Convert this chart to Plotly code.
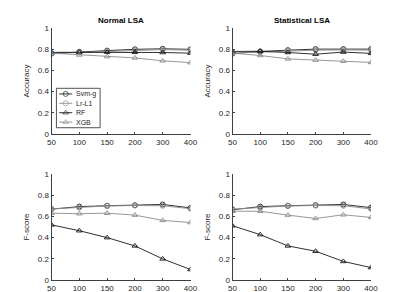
import plotly.graph_objects as go
from plotly.subplots import make_subplots

x_labels = ["50", "100", "150", "200", "300", "400"]
series_names = ["Svm-g", "Lr-L1", "RF", "XGB"]

# Normal LSA - Accuracy
acc_normal = {
    "Svm-g": [0.758, 0.775, 0.786, 0.798, 0.803, 0.798],
    "Lr-L1": [0.760, 0.770, 0.780, 0.788, 0.795, 0.790],
    "RF":    [0.770, 0.770, 0.772, 0.770, 0.768, 0.762],
    "XGB":   [0.762, 0.745, 0.730, 0.717, 0.690, 0.673],
}
# Statistical LSA - Accuracy
acc_stat = {
    "Svm-g": [0.758, 0.778, 0.790, 0.800, 0.800, 0.800],
    "Lr-L1": [0.762, 0.772, 0.782, 0.790, 0.792, 0.790],
    "RF":    [0.778, 0.780, 0.768, 0.752, 0.772, 0.760],
    "XGB":   [0.762, 0.740, 0.708, 0.697, 0.686, 0.675],
}
# Normal LSA - F-score
f_normal = {
    "Svm-g": [0.668, 0.692, 0.700, 0.705, 0.712, 0.680],
    "Lr-L1": [0.670, 0.682, 0.698, 0.702, 0.700, 0.672],
    "RF":    [0.520, 0.465, 0.400, 0.322, 0.200, 0.100],
    "XGB":   [0.630, 0.625, 0.630, 0.612, 0.562, 0.542],
}
# Statistical LSA - F-score
f_stat = {
    "Svm-g": [0.662, 0.692, 0.700, 0.705, 0.712, 0.682],
    "Lr-L1": [0.668, 0.680, 0.698, 0.702, 0.700, 0.670],
    "RF":    [0.512, 0.428, 0.322, 0.272, 0.176, 0.118],
    "XGB":   [0.648, 0.648, 0.612, 0.580, 0.615, 0.590],
}

colors = {"Svm-g": "#1a1a1a", "Lr-L1": "#8c8c8c", "RF": "#1a1a1a", "XGB": "#8c8c8c"}
symbols = {"Svm-g": "circle-open", "Lr-L1": "circle-open", "RF": "triangle-up-open", "XGB": "triangle-up-open"}

FONT = "Arial, Liberation Sans, sans-serif"
fig = make_subplots(rows=2, cols=2)
panels = [(acc_normal, 1, 1), (acc_stat, 1, 2), (f_normal, 2, 1), (f_stat, 2, 2)]
xs = list(range(len(x_labels)))
for data, r, c in panels:
    for name in series_names:
        fig.add_trace(go.Scatter(
            x=xs, y=data[name], name=name, mode="lines+markers",
            line=dict(color=colors[name], width=0.9),
            marker=dict(symbol=symbols[name], size=5, color=colors[name], line=dict(width=0.9, color=colors[name])),
            showlegend=False,
        ), row=r, col=c)

tick_font = dict(family=FONT, size=8, color="#262626")
xdoms = [[0.1096, 0.4597], [0.5655, 0.9144]]
ydoms = [[0.568, 0.932], [0.068, 0.432]]
for r in (1, 2):
    for c in (1, 2):
        fig.update_xaxes(row=r, col=c, domain=xdoms[c - 1], range=[0, 5], tickvals=xs, ticktext=x_labels,
                         showline=True, linecolor="#404040", linewidth=1, ticks="inside", ticklen=2,
                         tickcolor="#404040", showgrid=False, zeroline=False, tickfont=tick_font, automargin=False)
        fig.update_yaxes(row=r, col=c, domain=ydoms[r - 1], range=[0, 1], tickvals=[0, 0.2, 0.4, 0.6, 0.8, 1],
                         ticktext=["0", "0.2", "0.4", "0.6", "0.8", "1"],
                         showline=True, linecolor="#404040", linewidth=1, ticks="inside", ticklen=2,
                         tickcolor="#404040", showgrid=False, zeroline=False, tickfont=tick_font, automargin=False,
                         title=dict(text="Accuracy" if r == 1 else "F-score",
                                    font=dict(family=FONT, size=8, color="#262626"), standoff=6))

# custom compact legend drawn in its own small axis
leg_x0, leg_x1, leg_y0, leg_y1 = 0.122, 0.232, 0.59, 0.725
fig.update_layout(
    xaxis5=dict(domain=[leg_x0, leg_x1], range=[0, 4], visible=False, anchor="y5", fixedrange=True),
    yaxis5=dict(domain=[leg_y0, leg_y1], range=[-0.6, 3.6], visible=False, anchor="x5", fixedrange=True),
)
for i, name in enumerate(series_names):
    ypos = 3 - i
    fig.add_trace(go.Scatter(x=[0.25, 0.85, 1.45], y=[ypos] * 3, mode="lines+markers",
                             line=dict(color=colors[name], width=0.9),
                             marker=dict(symbol=symbols[name], size=[0, 5, 0], color=colors[name],
                                         line=dict(width=0.9, color=colors[name])),
                             showlegend=False, hoverinfo="skip", xaxis="x5", yaxis="y5"))
    fig.add_annotation(text=name, x=1.6, y=ypos, xref="x5", yref="y5", xanchor="left", showarrow=False,
                       font=dict(family=FONT, size=7, color="#262626"))
fig.add_shape(type="rect", xref="x5 domain", yref="y5 domain", x0=0, x1=1, y0=0, y1=1,
              line=dict(color="#262626", width=0.8), fillcolor="rgba(0,0,0,0)")

title_font = dict(family=FONT, size=8, color="#000000")
fig.add_annotation(text="<b>Normal LSA</b>", x=(xdoms[0][0] + xdoms[0][1]) / 2, y=0.935, xref="paper", yref="paper",
                   showarrow=False, xanchor="center", yanchor="bottom", font=title_font)
fig.add_annotation(text="<b>Statistical LSA</b>", x=(xdoms[1][0] + xdoms[1][1]) / 2, y=0.935, xref="paper", yref="paper",
                   showarrow=False, xanchor="center", yanchor="bottom", font=title_font)

fig.update_layout(
    width=397, height=292, margin=dict(l=0, r=0, t=0, b=0),
    paper_bgcolor="white", plot_bgcolor="white",
    showlegend=False,
)
fig.write_html("out.html")
